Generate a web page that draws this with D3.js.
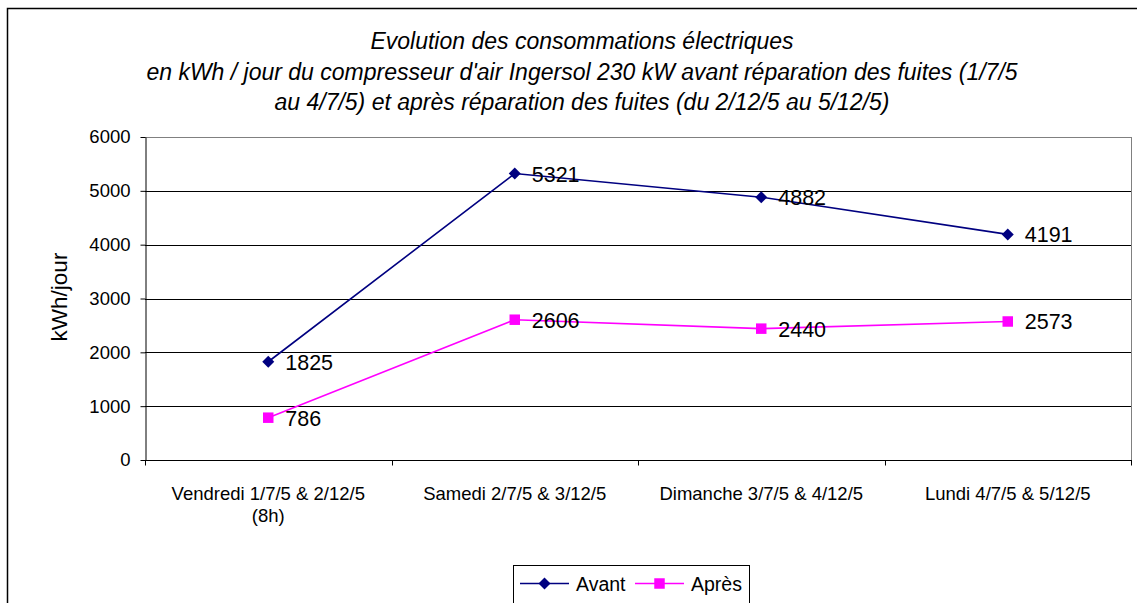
<!DOCTYPE html>
<html>
<head>
<meta charset="utf-8">
<script src="https://cdn.jsdelivr.net/npm/d3@7"></script>
<style>
  body { margin: 0; background: #fff; }
  svg { display: block; font-family: "Liberation Sans", Arial, sans-serif; }
</style>
</head>
<body>
<script>
var w = 1137;
var h = 603;

// data
var categories = ["Vendredi 1/7/5 & 2/12/5|(8h)", "Samedi 2/7/5 & 3/12/5", "Dimanche 3/7/5 & 4/12/5", "Lundi 4/7/5 & 5/12/5"];
var avant = [1825, 5321, 4882, 4191];
var apres = [786, 2606, 2440, 2573];
var yTicks = [0, 1000, 2000, 3000, 4000, 5000, 6000];
var seriesNames = ["Avant", "Après"];
var titleLines = [
    "Evolution des consommations électriques",
    "en kWh / jour du compresseur d'air Ingersol 230 kW avant réparation des fuites (1/7/5",
    "au 4/7/5) et après réparation des fuites (du 2/12/5 au 5/12/5)"
];

var plot = { left: 145, top: 137, right: 1131, bottom: 460 };

var svg = d3.select("body")
        .append("svg")
        .attr("width", w)
        .attr("height", h);

// chart area border (right and bottom sides run off the picture)
svg.append("rect")
    .attr("x", 7.5).attr("y", 8.5)
    .attr("width", 1200).attr("height", 700)
    .attr("fill", "none")
    .attr("stroke", "#000")
    .attr("stroke-width", 1.5);

// title
svg.append("g").selectAll("text")
    .data(titleLines)
    .enter()
    .append("text")
    .attr("x", 582)
    .attr("y", function(d, i){ return 49 + i * 30.5; })
    .attr("text-anchor", "middle")
    .style("font-style", "italic")
    .style("font-size", "23px")
    .text(function(d){ return d; });

var xScale = d3.scaleBand()
    .domain(d3.range(categories.length))
    .range([plot.left, plot.right]);

var yScale = d3.scaleLinear()
    .domain([0, 6000])
    .range([plot.bottom, plot.top]);

// gridlines
svg.append("g").selectAll("line")
    .data(yTicks.slice(1))
    .enter()
    .append("line")
    .attr("x1", plot.left).attr("x2", plot.right)
    .attr("y1", function(d){ return Math.round(yScale(d)) + 0.5; })
    .attr("y2", function(d){ return Math.round(yScale(d)) + 0.5; })
    .attr("stroke", function(d){ return d === 6000 ? "#808080" : "#000"; })
    .attr("stroke-width", 1);

// right plot border
svg.append("line")
    .attr("x1", plot.right + 0.5).attr("x2", plot.right + 0.5)
    .attr("y1", plot.top).attr("y2", plot.bottom)
    .attr("stroke", "#808080");

// y axis
var yAxis = svg.append("g")
    .attr("transform", "translate(" + (plot.left + 0.5) + ",0)")
    .call(d3.axisLeft(yScale).tickValues(yTicks).tickFormat(d3.format("d"))
        .tickSize(5).tickSizeOuter(0).tickPadding(10));
yAxis.select(".domain").attr("stroke", "#000");
yAxis.selectAll("text").style("font-size", "18.5px").attr("fill", "#000");

// x axis
var xAxis = svg.append("g")
    .attr("transform", "translate(0," + (plot.bottom + 0.5) + ")");
xAxis.append("line")
    .attr("x1", plot.left).attr("x2", plot.right + 1)
    .attr("stroke", "#000");
xAxis.selectAll(".tk")
    .data(d3.range(categories.length + 1))
    .enter()
    .append("line")
    .attr("class", "tk")
    .attr("x1", function(d){ return Math.round(plot.left + d * xScale.bandwidth()) + 0.5; })
    .attr("x2", function(d){ return Math.round(plot.left + d * xScale.bandwidth()) + 0.5; })
    .attr("y1", 0).attr("y2", 5)
    .attr("stroke", "#000");
var catText = xAxis.selectAll(".cat")
    .data(categories)
    .enter()
    .append("text")
    .attr("class", "cat")
    .attr("text-anchor", "middle")
    .style("font-size", "18.5px")
    .attr("transform", function(d, i){ return "translate(" + (xScale(i) + xScale.bandwidth() / 2) + ",0)"; });
catText.selectAll("tspan")
    .data(function(d){ return d.split("|"); })
    .enter()
    .append("tspan")
    .attr("x", 0)
    .attr("y", function(d, i){ return 39 + i * 22; })
    .text(function(d){ return d; });

// y axis title
svg.append("text")
    .attr("transform", "translate(67,297) rotate(-90)")
    .attr("text-anchor", "middle")
    .style("font-size", "22.5px")
    .text("kWh/jour");

var cx = function(d, i){ return xScale(i) + xScale.bandwidth() / 2; };
var line = d3.line()
    .x(function(d, i){ return xScale(i) + xScale.bandwidth() / 2; })
    .y(function(d){ return yScale(d); });

var colors = ["#000080", "#ff00ff"];
var diamond = d3.symbol().type(d3.symbolSquare).size(72);
var square = d3.symbol().type(d3.symbolSquare).size(110);
var markTf = function(s){ return s === 0 ? " rotate(45)" : ""; };

[avant, apres].forEach(function(values, s){
    var g = svg.append("g");
    g.append("path")
        .datum(values)
        .attr("d", line)
        .attr("fill", "none")
        .attr("stroke", colors[s])
        .attr("stroke-width", 1.6);
    g.selectAll("path.mk")
        .data(values)
        .enter()
        .append("path")
        .attr("class", "mk")
        .attr("d", s === 0 ? diamond : square)
        .attr("transform", function(d, i){
            return "translate(" + cx(d, i) + "," + yScale(d) + ")" + markTf(s);
        })
        .attr("fill", colors[s]);
    g.selectAll("text")
        .data(values)
        .enter()
        .append("text")
        .attr("x", function(d, i){ return cx(d, i) + 17; })
        .attr("y", function(d){ return yScale(d) + 8; })
        .style("font-size", "21.5px")
        .attr("fill", "#000")
        .text(function(d){ return d; });
});

// legend
var legend = svg.append("g");
legend.append("rect")
    .attr("x", 513.5).attr("y", 565.5)
    .attr("width", 236).attr("height", 60)
    .attr("fill", "#fff")
    .attr("stroke", "#000");
seriesNames.forEach(function(name, s){
    var x0 = s === 0 ? 520 : 635;
    legend.append("line")
        .attr("x1", x0).attr("x2", x0 + 49)
        .attr("y1", 583.5).attr("y2", 583.5)
        .attr("stroke", colors[s])
        .attr("stroke-width", 1.6);
    legend.append("path")
        .attr("d", s === 0 ? diamond : square)
        .attr("transform", "translate(" + (x0 + 24.5) + ",583.5)" + markTf(s))
        .attr("fill", colors[s]);
    legend.append("text")
        .attr("x", x0 + 56)
        .attr("y", 590.5)
        .style("font-size", "19.5px")
        .text(name);
});
</script>
</body>
</html>
